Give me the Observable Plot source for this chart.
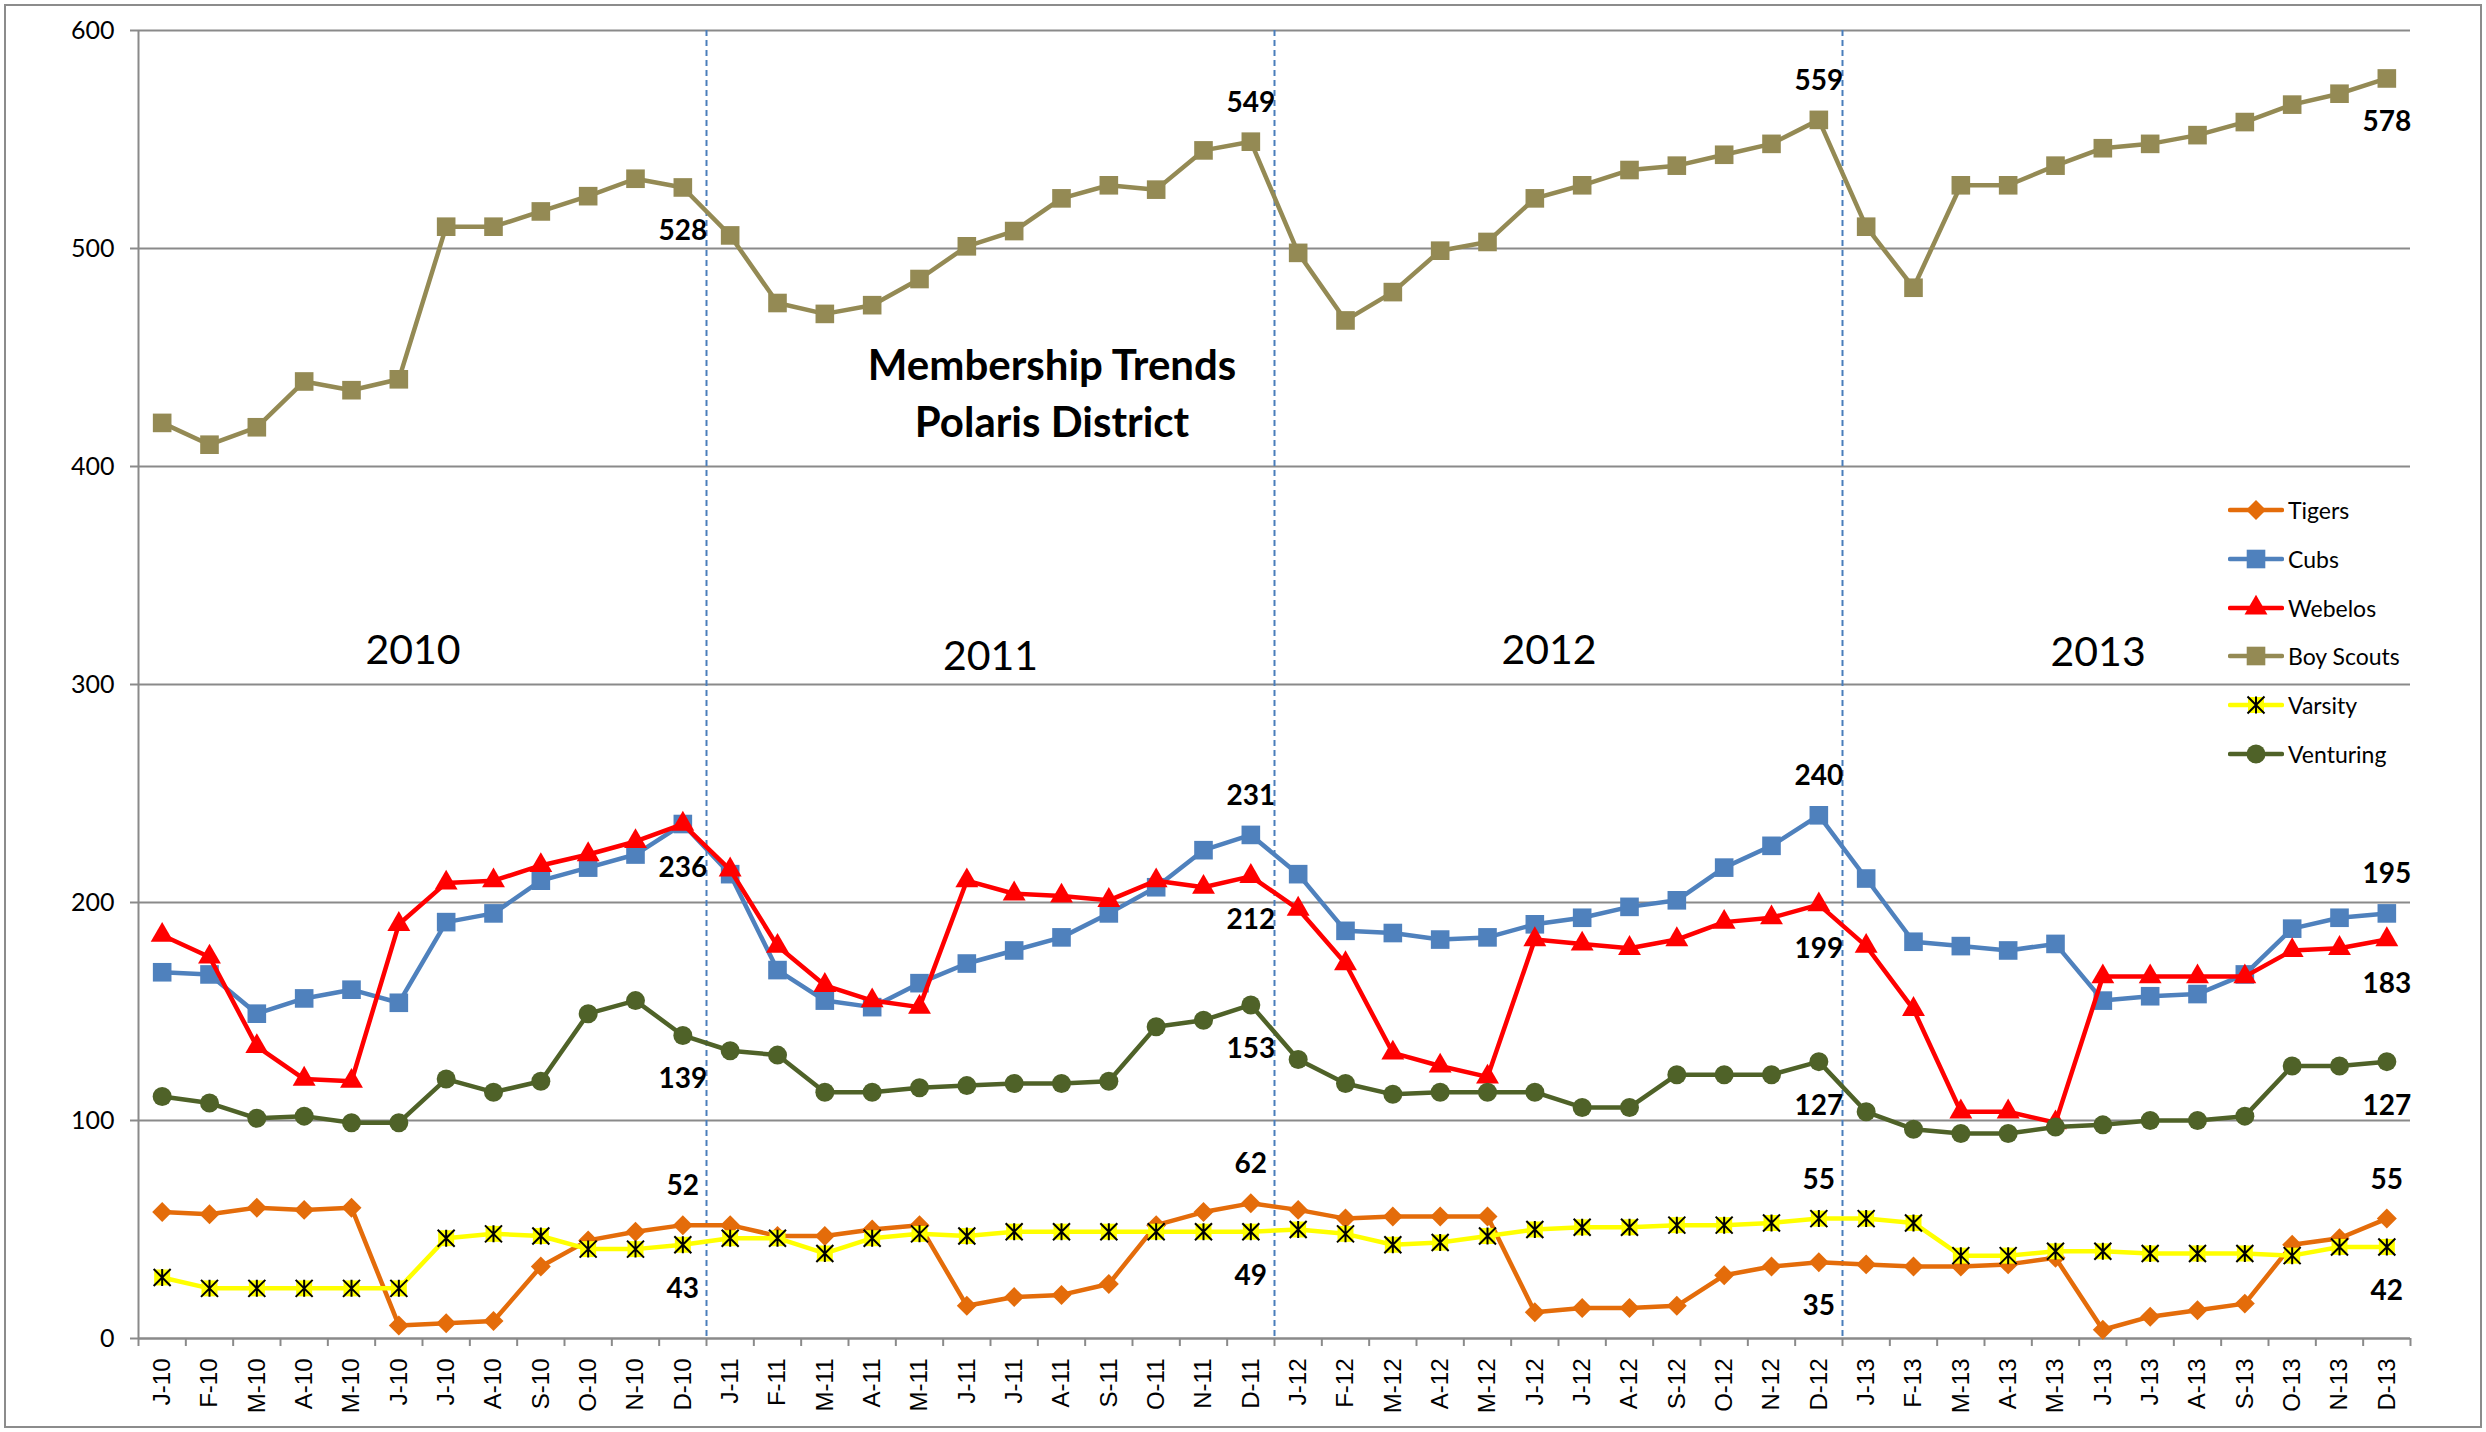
<!DOCTYPE html>
<html>
<head>
<meta charset="utf-8">
<script src="https://cdn.jsdelivr.net/npm/d3@7"></script>
<script src="https://cdn.jsdelivr.net/npm/@observablehq/plot@0.6"></script>
<style>
html, body { margin: 0; padding: 0; background: #fff; }
#wrap { position: relative; width: 2486px; height: 1432px; overflow: hidden; font-family: Lato, "Open Sans", sans-serif; }
#border { position: absolute; left: 4px; top: 4px; width: 2478px; height: 1424px; border: 2px solid #8c8c8c; box-sizing: border-box; pointer-events: none; }
#legend { position: absolute; left: 2228px; top: 0; }
.li { position: absolute; left: 0; display: flex; align-items: center; white-space: nowrap; font-size: 23px; color: #000; font-family: Lato, sans-serif; }
.li svg { display: block; }
.li span { margin-left: 4px; }
</style>
</head>
<body>
<div id="wrap"><div id="chart"></div><div id="legend"></div><div id="border"></div></div>
<script>
// ---------------- DATA ----------------
const monthLabels = [
  "J-10","F-10","M-10","A-10","M-10","J-10","J-10","A-10","S-10","O-10","N-10","D-10",
  "J-11","F-11","M-11","A-11","M-11","J-11","J-11","A-11","S-11","O-11","N-11","D-11",
  "J-12","F-12","M-12","A-12","M-12","J-12","J-12","A-12","S-12","O-12","N-12","D-12",
  "J-13","F-13","M-13","A-13","M-13","J-13","J-13","A-13","S-13","O-13","N-13","D-13"
];
const seriesNames = ["Tigers", "Cubs", "Webelos", "Boy Scouts", "Varsity", "Venturing"];
const tigers = [
  58, 57, 60, 59, 60, 6, 7, 8, 33, 45, 49, 52,
  52, 47, 47, 50, 52, 15, 19, 20, 25, 52, 58, 62,
  59, 55, 56, 56, 56, 12, 14, 14, 15, 29, 33, 35,
  34, 33, 33, 34, 37, 4, 10, 13, 16, 43, 46, 55
];
const cubs = [
  168, 167, 149, 156, 160, 154, 191, 195, 210, 216, 222, 236,
  213, 169, 155, 152, 163, 172, 178, 184, 195, 207, 224, 231,
  213, 187, 186, 183, 184, 190, 193, 198, 201, 216, 226, 240,
  211, 182, 180, 178, 181, 155, 157, 158, 167, 188, 193, 195
];
const webelos = [
  185, 175, 134, 119, 118, 190, 209, 210, 217, 222, 228, 236,
  215, 180, 162, 155, 152, 210, 204, 203, 201, 210, 207, 212,
  197, 172, 131, 125, 120, 183, 181, 179, 183, 191, 193, 199,
  180, 151, 104, 104, 99, 166, 166, 166, 166, 178, 179, 183
];
const boyScouts = [
  420, 410, 418, 439, 435, 440, 510, 510, 517, 524, 532, 528,
  506, 475, 470, 474, 486, 501, 508, 523, 529, 527, 545, 549,
  498, 467, 480, 499, 503, 523, 529, 536, 538, 543, 548, 559,
  510, 482, 529, 529, 538, 546, 548, 552, 558, 566, 571, 578
];
const varsity = [
  28, 23, 23, 23, 23, 23, 46, 48, 47, 41, 41, 43,
  46, 46, 39, 46, 48, 47, 49, 49, 49, 49, 49, 49,
  50, 48, 43, 44, 47, 50, 51, 51, 52, 52, 53, 55,
  55, 53, 38, 38, 40, 40, 39, 39, 39, 38, 42, 42
];
const venturing = [
  111, 108, 101, 102, 99, 99, 119, 113, 118, 149, 155, 139,
  132, 130, 113, 113, 115, 116, 117, 117, 118, 143, 146, 153,
  128, 117, 112, 113, 113, 113, 106, 106, 121, 121, 121, 127,
  104, 96, 94, 94, 97, 98, 100, 100, 102, 125, 125, 127
];
const yTicks = [0, 100, 200, 300, 400, 500, 600];
const yearBoundaries = [12, 24, 36];
const yearLabels = ["2010", "2011", "2012", "2013"];
const titleLines = "Membership Trends\nPolaris District";

// ---------------- CHART ----------------
const seriesValues = [tigers, cubs, webelos, boyScouts, varsity, venturing];
const colors = {
  "Tigers": "#E46C0A", "Cubs": "#4F81BD", "Webelos": "#FF0000",
  "Boy Scouts": "#948A54", "Varsity": "#FFFF00", "Venturing": "#4F6228"
};
const starSymbol = {
  draw(context, size) {
    const s = Math.sqrt(size / Math.PI);
    context.moveTo(-s, -s); context.lineTo(s, s);
    context.moveTo(-s, s); context.lineTo(s, -s);
    context.moveTo(0, -s); context.lineTo(0, s);
  }
};
const markerStyle = {
  "Tigers": {symbol: "diamond2", r: 9},
  "Cubs": {symbol: "square", r: 10.5},
  "Webelos": {symbol: "triangle", r: 8.5},
  "Boy Scouts": {symbol: "square", r: 10.5},
  "Varsity": {symbol: "square", r: 9},
  "Venturing": {symbol: "circle", r: 9.5}
};

const rows = [];
seriesNames.forEach((name, k) => {
  seriesValues[k].forEach((v, i) => rows.push({series: name, i, x: i + 0.5, value: v}));
});
const get = (name, i) => rows.find(d => d.series === name && d.i === i);

// which points carry a value label, and whether it sits above or below
const labelSpecs = [
  ["Boy Scouts", 11, "below"], ["Boy Scouts", 23, "above"], ["Boy Scouts", 35, "above"], ["Boy Scouts", 47, "below"],
  ["Cubs", 11, "below"], ["Cubs", 23, "above"], ["Cubs", 35, "above"], ["Cubs", 47, "above"],
  ["Webelos", 23, "below"], ["Webelos", 35, "below"], ["Webelos", 47, "below"],
  ["Venturing", 11, "below"], ["Venturing", 23, "below"], ["Venturing", 35, "below"], ["Venturing", 47, "below"],
  ["Tigers", 11, "above"], ["Tigers", 23, "above"], ["Tigers", 35, "below"], ["Tigers", 47, "above"],
  ["Varsity", 11, "below"], ["Varsity", 23, "below"], ["Varsity", 35, "above"], ["Varsity", 47, "below"]
];
const labelAbove = labelSpecs.filter(d => d[2] === "above").map(d => get(d[0], d[1]));
const labelBelow = labelSpecs.filter(d => d[2] === "below").map(d => get(d[0], d[1]));

// annotation anchors (x in month units, y in member units)
const yearAnchors = [
  {text: yearLabels[0], x: 5.8, y: 315.6},
  {text: yearLabels[1], x: 18.0, y: 312.8},
  {text: yearLabels[2], x: 29.8, y: 315.6},
  {text: yearLabels[3], x: 41.4, y: 314.7}
];
const titleAnchor = [{text: titleLines, x: 19.3, y: 435}];

const gridColor = "#8a8a8a";
const marks = [
  Plot.gridY({ticks: yTicks, stroke: gridColor, strokeOpacity: 1, strokeWidth: 2}),
  Plot.ruleX([0], {stroke: gridColor, strokeWidth: 2}),
  Plot.ruleY([0], {stroke: gridColor, strokeWidth: 2}),
  Plot.ruleX(yearBoundaries, {stroke: "#4A7EBB", strokeWidth: 2, strokeDasharray: "6,4"}),
  Plot.axisY({ticks: yTicks, label: null, tickSize: 8, tickPadding: 16, fontSize: 25, stroke: gridColor, strokeWidth: 2, fill: "#000", tickFormat: d => String(d)}),
  Plot.axisX({ticks: d3.range(0, 49), label: null, tickSize: 8, stroke: gridColor, strokeWidth: 2, tickFormat: () => ""}),
  Plot.axisX({
    ticks: d3.range(48).map(i => i + 0.5), label: null, tickSize: 0, tickPadding: 20, tickRotate: -90,
    tickFormat: v => monthLabels[Math.round(v - 0.5)], fontSize: 24, fill: "#000",
    fontFamily: "'Liberation Sans', Arial, sans-serif"
  })
];
seriesNames.forEach(name => {
  const data = rows.filter(d => d.series === name);
  const c = colors[name];
  marks.push(Plot.lineY(data, {x: "x", y: "value", stroke: c, strokeWidth: 4.5}));
  const ms = markerStyle[name];
  marks.push(Plot.dot(data, {x: "x", y: "value", symbol: ms.symbol, r: ms.r, fill: c, stroke: "none"}));
  if (name === "Varsity") {
    marks.push(Plot.dot(data, {x: "x", y: "value", symbol: starSymbol, r: 8.5, fill: "none", stroke: "#000", strokeWidth: 2}));
  }
});
marks.push(
  Plot.text(labelAbove, {x: "x", y: "value", text: d => String(d.value), dy: -39, fontSize: 28, fontWeight: "bold", fill: "#000"}),
  Plot.text(labelBelow, {x: "x", y: "value", text: d => String(d.value), dy: 44, fontSize: 28, fontWeight: "bold", fill: "#000"}),
  Plot.text(yearAnchors, {x: "x", y: "y", text: "text", fontSize: 41, fill: "#000"}),
  Plot.text(titleAnchor, {x: "x", y: "y", text: "text", fontSize: 42, fontWeight: "bold", lineHeight: 1.35, fill: "#000"})
);

const chart = Plot.plot({
  width: 2486,
  height: 1432,
  marginLeft: 138,
  marginRight: 76,
  marginTop: 30,
  marginBottom: 94,
  style: {fontFamily: "Lato, sans-serif", background: "#fff", color: "#000"},
  x: {type: "linear", domain: [0, 48], label: null},
  y: {type: "linear", domain: [0, 600], label: null},
  marks
});
document.getElementById("chart").appendChild(chart);

// ---------------- LEGEND ----------------
const legend = d3.select("#legend");
const legendTop = 495, legendStep = 48.8;
seriesNames.forEach((name, k) => {
  const item = legend.append("div").attr("class", "li").style("top", (legendTop + k * legendStep) + "px");
  const svg = item.append("svg").attr("width", 56).attr("height", 30);
  const c = colors[name];
  svg.append("line").attr("x1", 2).attr("x2", 54).attr("y1", 15).attr("y2", 15)
    .attr("stroke", c).attr("stroke-width", 4.5).attr("stroke-linecap", "round");
  const ms = markerStyle[name];
  const typeMap = {diamond2: d3.symbolDiamond2, square: d3.symbolSquare, triangle: d3.symbolTriangle, circle: d3.symbolCircle};
  svg.append("path").attr("transform", "translate(28,15)")
    .attr("d", d3.symbol(typeMap[ms.symbol], Math.PI * ms.r * ms.r)()).attr("fill", c);
  if (name === "Varsity") {
    svg.append("path").attr("transform", "translate(28,15)")
      .attr("d", d3.symbol(starSymbol, Math.PI * 8.5 * 8.5)()).attr("fill", "none").attr("stroke", "#000").attr("stroke-width", 2);
  }
  item.append("span").text(name);
});
</script>
</body>
</html>
